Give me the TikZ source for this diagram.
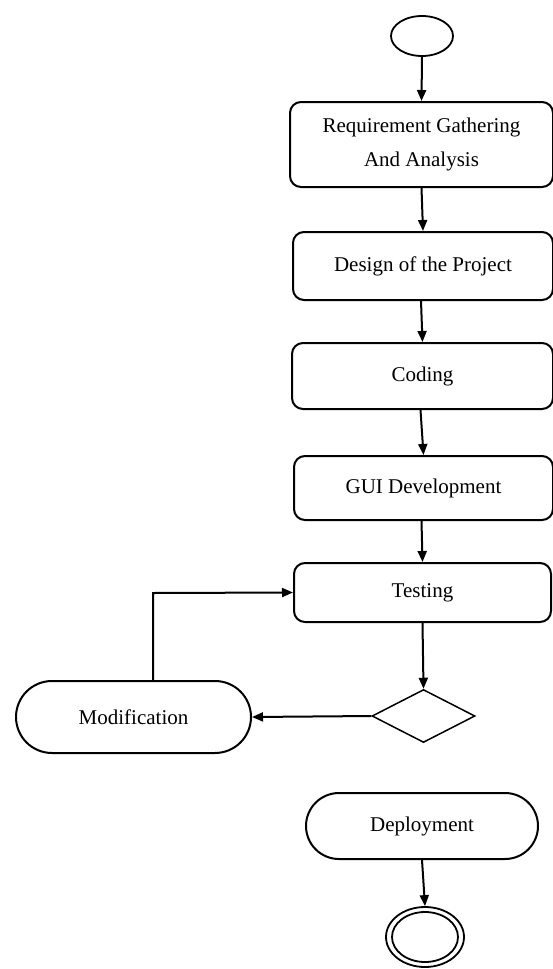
\documentclass[tikz,border=0pt]{standalone}
\usepackage{fontspec}
\setmainfont{Liberation Serif}
\usetikzlibrary{arrows.meta,shapes.geometric,shapes.misc}
\begin{document}
\begin{tikzpicture}[x=1pt,y=-1pt,
  every node/.style={font=\fontsize{21}{34}\selectfont, align=center},
  stepbox/.style={draw, line width=2pt, rounded corners=11pt, minimum width=261pt, inner sep=0pt},
  pill/.style={draw, line width=2pt, rounded rectangle, inner sep=0pt},
  conn/.style={line width=2pt, -{Triangle[length=11pt,width=9pt]}}]
\useasboundingbox (0,0) rectangle (553,969);
\node[draw, ellipse, line width=1.8pt, minimum width=62pt, minimum height=40pt, inner sep=0pt] (start) at (422,36) {};
\node[stepbox, minimum width=263pt, minimum height=85pt] (req) at (421.5,144.5) {Requirement Gathering\\And Analysis};
\node[stepbox, minimum width=260pt, minimum height=68pt] (des) at (423,266) {Design of the Project};
\node[stepbox, minimum width=261pt, minimum height=66pt] (cod) at (422.5,376) {Coding};
\node[stepbox, minimum width=259pt, minimum height=64pt] (gui) at (423.5,488) {GUI Development};
\node[stepbox, minimum width=257pt, minimum height=59pt] (tst) at (422.5,592.5) {Testing};
\node[draw, diamond, line width=1.5pt, minimum width=103pt, minimum height=53pt, inner sep=0pt, aspect=1.9] (dec) at (423.5,716) {};
\node[pill, minimum width=235pt, minimum height=72pt] (mod) at (133.5,717) {Modification};
\node[pill, minimum width=232pt, minimum height=66pt] (dep) at (422,826) {Deployment};
\node[draw, ellipse, line width=1.8pt, minimum width=78pt, minimum height=60pt, inner sep=0pt] (fin) at (425,937) {};
\node[draw, ellipse, line width=1.8pt, minimum width=66pt, minimum height=50pt, inner sep=0pt] (fin2) at (425,937) {};
\draw[conn] (start.south) -- (req.north);
\draw[conn] (req.south) -- (des.north);
\draw[conn] ([xshift=-2pt]des.south) -- (cod.north);
\draw[conn] ([xshift=-2pt]cod.south) -- (gui.north);
\draw[conn] ([xshift=-2pt]gui.south) -- (tst.north);
\draw[conn] (tst.south) -- (dec.north);
\draw[conn] (dec.west) -- (mod.east);
\coordinate (up) at (153,593);
\draw[conn] (mod.north -| up) -- (up) -- (tst.west);
\draw[conn] (dep.south) -- (fin.north);
\end{tikzpicture}
\end{document}
